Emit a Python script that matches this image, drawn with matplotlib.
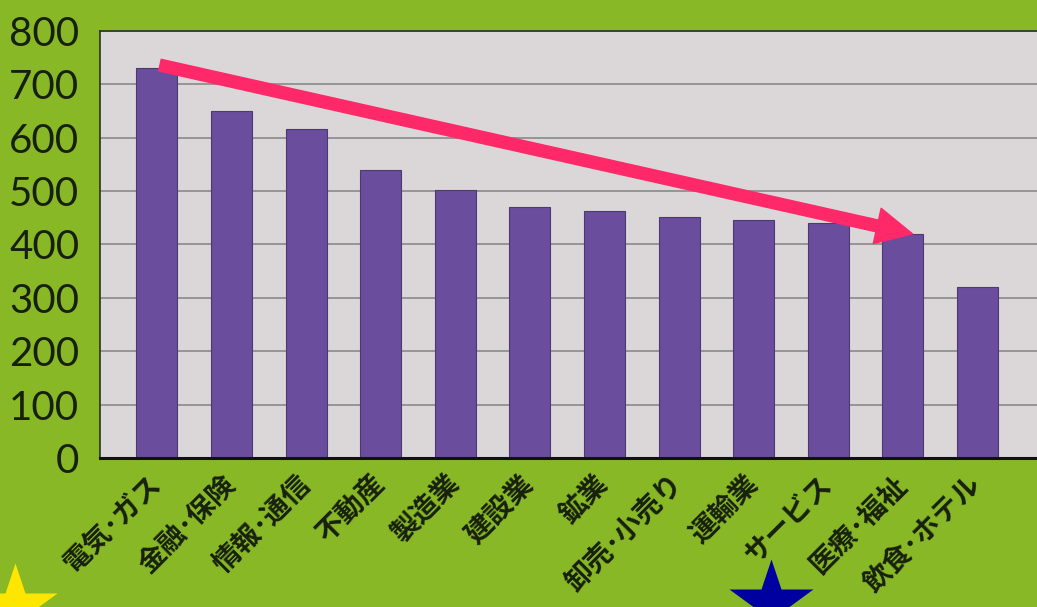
import matplotlib.pyplot as plt

# 業種別の平均年収（万円）
categories = ["電気･ガス", "金融･保険", "情報･通信", "不動産", "製造業", "建設業",
              "鉱業", "卸売･小売り", "運輸業", "サービス", "医療･福祉", "飲食･ホテル"]
salaries = [730, 650, 617, 540, 502, 470, 463, 452, 446, 440, 420, 320]
y_ticks = [0, 100, 200, 300, 400, 500, 600, 700, 800]

GREEN = "#88b826"
PANEL = "#dbd7d8"
PURPLE = "#6b4d9e"
PINK = "#ff2868"
TEXT = "#17200d"


def main():
    fig = plt.figure(figsize=(10.37, 6.07), dpi=100, facecolor=GREEN)
    ax = fig.add_axes([0.0964, 0.2455, 0.9036, 0.7034], facecolor=PANEL)

    x = list(range(len(categories)))
    ax.bar(x, salaries, width=0.55, color=PURPLE, edgecolor="#4b3a72",
           linewidth=0.8, zorder=2)

    ax.set_xlim(-0.764, 11.8)
    ax.set_ylim(0, 800)
    ax.set_yticks(y_ticks)
    ax.yaxis.grid(True, color="#8a8a8a", linewidth=1.2)
    ax.set_axisbelow(True)

    for side in ["top", "left"]:
        ax.spines[side].set_color("#2a3520")
        ax.spines[side].set_linewidth(1.2)
    ax.spines["bottom"].set_color("#111111")
    ax.spines["bottom"].set_linewidth(2.2)
    ax.spines["right"].set_visible(False)

    ax.tick_params(axis="y", length=0, pad=15, labelsize=29, labelcolor=TEXT)
    for lbl in ax.get_yticklabels():
        lbl.set_fontfamily("Lato")

    ax.set_xticks(x)
    ax.set_xticklabels(categories, rotation=45, ha="right", va="center",
                       rotation_mode="anchor", fontsize=20, fontweight="bold",
                       color=TEXT, family=["Noto Sans CJK JP", "DejaVu Sans"])
    ax.tick_params(axis="x", length=0, pad=16)

    # 下がっていく傾向を示す矢印
    ax.annotate("", xy=(10.13, salaries[10]), xytext=(0.04, salaries[0] + 6),
                arrowprops=dict(arrowstyle="simple,head_length=1.3,head_width=1.3,tail_width=0.43",
                                color=PINK, mutation_scale=20, shrinkA=0, shrinkB=0),
                zorder=5)

    # 飾りの星
    deco = fig.add_axes([0, 0, 1, 1], facecolor="none")
    deco.set_xlim(0, 1037)
    deco.set_ylim(607, 0)
    deco.axis("off")
    deco.plot([15], [607], marker="*", markersize=64, color="#ffe600",
              markeredgecolor="none", clip_on=False)
    deco.plot([771], [603], marker="*", markersize=64, color="#0000a0",
              markeredgecolor="none", clip_on=False)

    fig.savefig("out.png", dpi=100, facecolor=GREEN)


if __name__ == "__main__":
    main()
